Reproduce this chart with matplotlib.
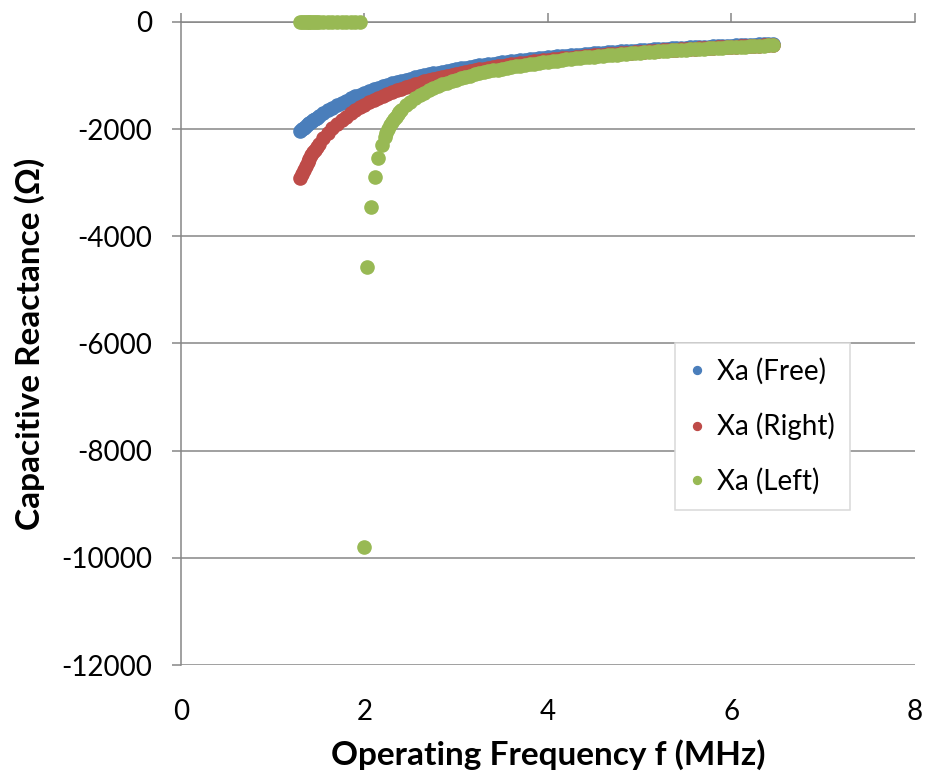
import matplotlib
matplotlib.use("Agg")
import matplotlib.pyplot as plt
import numpy as np

# frequency sweep (MHz): fine steps at the low end, 0.05 MHz above 1.5
freq = np.round(np.concatenate([np.arange(1.30, 1.49, 0.02),
                                np.arange(1.50, 6.451, 0.05)]), 2)

xa_free = [-2031, -2000, -1970, -1941, -1913, -1886, -1859, -1833, -1808, -1784,
           -1760, -1703, -1650, -1600, -1553, -1509, -1467, -1427, -1389, -1354,
           -1320, -1288, -1257, -1228, -1200, -1173, -1148, -1123, -1100, -1078,
           -1056, -1035, -1015, -996, -978, -960, -943, -926, -910, -895,
           -880, -866, -852, -838, -825, -812, -800, -788, -776, -765,
           -754, -744, -733, -723, -714, -704, -695, -686, -677, -668,
           -660, -652, -644, -636, -629, -621, -614, -607, -600, -593,
           -587, -580, -574, -568, -562, -556, -550, -544, -539, -533,
           -528, -523, -518, -513, -508, -503, -498, -493, -489, -484,
           -480, -476, -471, -467, -463, -459, -455, -451, -447, -444,
           -440, -436, -433, -429, -426, -422, -419, -416, -413, -409]

xa_right = [-2917, -2834, -2756, -2683, -2615, -2551, -2491, -2435, -2382, -2331,
            -2284, -2173, -2075, -1986, -1907, -1833, -1766, -1705, -1648, -1595,
            -1545, -1499, -1456, -1415, -1377, -1341, -1307, -1274, -1244, -1214,
            -1186, -1160, -1134, -1110, -1087, -1065, -1044, -1023, -1004, -985,
            -966, -949, -933, -916, -901, -886, -871, -857, -843, -830,
            -817, -805, -792, -781, -770, -759, -748, -737, -727, -718,
            -708, -699, -690, -681, -672, -664, -656, -648, -640, -632,
            -625, -618, -610, -604, -597, -590, -584, -578, -572, -565,
            -560, -554, -548, -542, -537, -532, -526, -521, -516, -512,
            -507, -501, -497, -492, -488, -484, -479, -475, -471, -467,
            -463, -459, -455, -451, -447, -444, -440, -436, -433, -429]

freq_left = [1.30, 1.32, 1.34, 1.36, 1.38, 1.40, 1.42, 1.44, 1.46, 1.48,
             1.50, 1.55, 1.60, 1.65, 1.70, 1.75, 1.80, 1.85, 1.90, 1.95,
             2.00, 2.03, 2.07, 2.115, 2.15, 2.195,
             2.22, 2.24, 2.26, 2.28, 2.30, 2.32, 2.34, 2.36, 2.38, 2.40,
             2.45, 2.50, 2.55, 2.60, 2.65, 2.70, 2.75, 2.80, 2.85, 2.90,
             2.95, 3.00, 3.05, 3.10, 3.15, 3.20, 3.25, 3.30, 3.35, 3.40,
             3.45, 3.50, 3.55, 3.60, 3.65, 3.70, 3.75, 3.80, 3.85, 3.90,
             3.95, 4.00, 4.05, 4.10, 4.15, 4.20, 4.25, 4.30, 4.35, 4.40,
             4.45, 4.50, 4.55, 4.60, 4.65, 4.70, 4.75, 4.80, 4.85, 4.90,
             4.95, 5.00, 5.05, 5.10, 5.15, 5.20, 5.25, 5.30, 5.35, 5.40,
             5.45, 5.50, 5.55, 5.60, 5.65, 5.70, 5.75, 5.80, 5.85, 5.90,
             5.95, 6.00, 6.05, 6.10, 6.15, 6.20, 6.25, 6.30, 6.35, 6.40, 6.45]

xa_left = [0, 0, 0, 0, 0, 0, 0, 0, 0, 0,
           0, 0, 0, 0, 0, 0, 0, 0, 0, 0,
           -9800, -4570, -3450, -2890, -2545, -2295,
           -2152, -2069, -1994, -1929, -1870, -1816, -1767, -1721, -1680, -1642,
           -1557, -1485, -1422, -1367, -1317, -1274, -1234, -1196, -1162, -1131,
           -1102, -1074, -1049, -1024, -1002, -980, -960, -940, -922, -904,
           -887, -871, -855, -841, -827, -813, -799, -787, -775, -763,
           -751, -740, -729, -719, -709, -699, -689, -680, -671, -662,
           -654, -646, -638, -629, -622, -614, -608, -601, -594, -587,
           -581, -574, -568, -561, -556, -549, -544, -539, -532, -527,
           -522, -517, -512, -507, -502, -497, -492, -488, -483, -479,
           -475, -471, -467, -462, -458, -454, -450, -447, -443, -439, -435]

x_ticks = [0, 2, 4, 6, 8]
y_ticks = [0, -2000, -4000, -6000, -8000, -10000, -12000]

plt.rcParams['font.family'] = ['Lato', 'DejaVu Sans']
plt.rcParams['axes.unicode_minus'] = False
grey = '#868686'

fig = plt.figure(figsize=(9.28, 7.82), dpi=100)
ax = fig.add_axes([0.195, 0.1496, 0.791, 0.8223])

ms = 9.5
ax.plot(freq, xa_free, 'o', ms=ms, color='#4A7EBB', mec='#4A7EBB',
        label='Xa (Free)', clip_on=False, zorder=3)
ax.plot(freq, xa_right, 'o', ms=ms, color='#BE4B48', mec='#BE4B48',
        label='Xa (Right)', clip_on=False, zorder=3)
ax.plot(freq_left, xa_left, 'o', ms=ms, color='#98B954', mec='#98B954',
        label='Xa (Left)', clip_on=False, zorder=3)

ax.set_xlim(0, 8)
ax.set_ylim(-12000, 0)
ax.set_xticks(x_ticks)
ax.set_yticks(y_ticks)
ax.yaxis.grid(True, color=grey, lw=1.1)
ax.set_axisbelow(True)

for s in ['right', 'bottom']:
    ax.spines[s].set_visible(False)
for s in ['left', 'top']:
    ax.spines[s].set_color(grey)
    ax.spines[s].set_linewidth(1.1)

# x axis sits at y=0 (top), labels stay at the bottom
ax.tick_params(axis='x', which='both', top=True, bottom=False,
               labeltop=False, labelbottom=True, direction='out',
               length=6.5, width=1.1, color=grey, labelsize=20, pad=18)
ax.tick_params(axis='y', direction='out', length=6.5, width=1.1,
               color=grey, labelsize=20, pad=14)

ax.set_xlabel('Operating Frequency f (MHz)', fontsize=24, fontweight='bold',
              labelpad=10)
ax.set_ylabel('Capacitive Reactance (\u03a9)', fontsize=24, fontweight='bold',
              labelpad=12)

leg = ax.legend(loc='upper left', bbox_to_anchor=(0.673, 0.501),
                borderaxespad=0, fontsize=20, markerscale=0.6,
                handlelength=0.5, handletextpad=0.45, labelspacing=1.0,
                borderpad=0.55, fancybox=False, framealpha=1)
leg.get_frame().set_edgecolor('#D9D9D9')
leg.get_frame().set_linewidth(1.1)

fig.savefig('out.png', dpi=100)
